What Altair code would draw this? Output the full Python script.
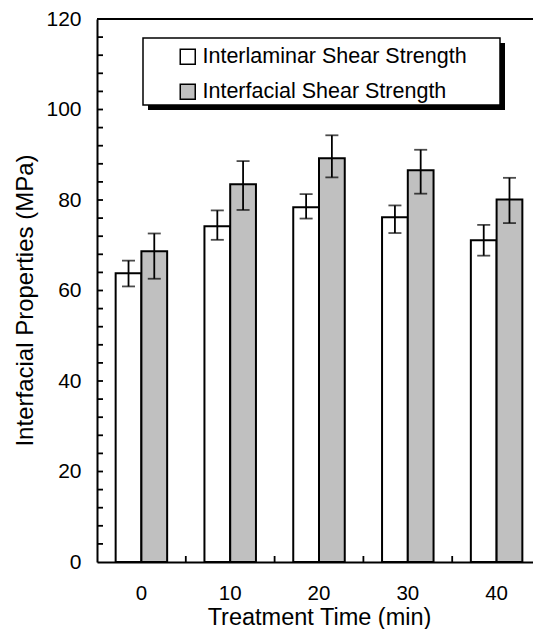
import altair as alt
import pandas as pd

# ---- data ----
times = [0, 10, 20, 30, 40]
series = ["Interlaminar Shear Strength", "Interfacial Shear Strength"]
ilss = [63.8, 74.2, 78.4, 76.2, 71.1]
ilss_lo = [60.9, 71.2, 75.9, 72.7, 67.7]
ilss_hi = [66.6, 77.7, 81.3, 78.8, 74.5]
ifss = [68.7, 83.5, 89.2, 86.6, 80.1]
ifss_lo = [62.6, 77.8, 85.0, 81.4, 74.9]
ifss_hi = [72.6, 88.6, 94.3, 91.1, 84.9]
y_labels = [0, 20, 40, 60, 80, 100, 120]
y_ticks = [4, 8, 12, 16, 20, 24, 28, 32, 36, 40, 44, 48, 52, 56, 60, 64, 68, 72, 76,
           80, 84, 88, 92, 96, 100, 104, 108, 112, 116]
x_minor = [5, 15, 25, 35]

rows = []
for i, t in enumerate(times):
    rows.append({"time": t, "series": series[0], "value": ilss[i], "lo": ilss_lo[i], "hi": ilss_hi[i]})
    rows.append({"time": t, "series": series[1], "value": ifss[i], "lo": ifss_lo[i], "hi": ifss_hi[i]})
df = pd.DataFrame(rows)

W, H = 444, 543
FONT = "Liberation Sans"

xscale = alt.Scale(paddingInner=0.42, paddingOuter=0.21)
yscale = alt.Scale(domain=[0, 120], nice=False)
offscale = alt.Scale(domain=series, paddingInner=0, paddingOuter=0)

YTITLE = "Interfacial Properties (MPa)"
yaxis = alt.Axis(values=y_labels, ticks=False, grid=False,
                 labelFontSize=21, labelPadding=16, labelColor="black",
                 domainColor="black", domainWidth=2,
                 titleFontSize=24, titleFontWeight="normal", titleColor="black",
                 titleBaseline="alphabetic", titleX=-65, titleY=281)

base = alt.Chart(df)

bars = base.mark_bar(stroke="black", strokeWidth=2).encode(
    x=alt.X("time:O", scale=xscale, title="Treatment Time (min)",
            axis=alt.Axis(labelAngle=0, ticks=False, labelFontSize=20.5, labelPadding=21,
                          labelColor="black", domainColor="black", domainWidth=2,
                          titleFontSize=23.5, titleFontWeight="normal", titleColor="black",
                          titleBaseline="alphabetic", titleY=62)),
    xOffset=alt.XOffset("series:N", scale=offscale),
    y=alt.Y("value:Q", scale=yscale, title=YTITLE, axis=yaxis),
    fill=alt.Fill("series:N", scale=alt.Scale(domain=series, range=["white", "#c0c0c0"]),
                  legend=alt.Legend(title=None, orient="none", legendX=80, legendY=27,
                                    symbolType="square", symbolSize=225,
                                    symbolStrokeColor="black", symbolStrokeWidth=1.5,
                                    labelFontSize=21.5, labelOffset=4, labelColor="black",
                                    rowPadding=12, padding=0, labelLimit=400)),
)

err = base.mark_rule(color="black", strokeWidth=1.8).encode(
    x=alt.X("time:O", scale=xscale, axis=None),
    xOffset=alt.XOffset("series:N", scale=offscale),
    y=alt.Y("lo:Q", scale=yscale, title=YTITLE, axis=yaxis),
    y2="hi:Q",
)
cap_lo = base.mark_tick(color="black", thickness=1.8, size=13).encode(
    x=alt.X("time:O", scale=xscale, axis=None),
    xOffset=alt.XOffset("series:N", scale=offscale),
    y=alt.Y("lo:Q", scale=yscale, title=YTITLE, axis=yaxis),
)
cap_hi = base.mark_tick(color="black", thickness=1.8, size=13).encode(
    x=alt.X("time:O", scale=xscale, axis=None),
    xOffset=alt.XOffset("series:N", scale=offscale),
    y=alt.Y("hi:Q", scale=yscale, title=YTITLE, axis=yaxis),
)

yt = alt.Chart(pd.DataFrame({"v": y_ticks})).mark_rule(color="black", strokeWidth=1.8).encode(
    y=alt.Y("v:Q", scale=yscale, title=YTITLE, axis=yaxis),
    x=alt.value(0), x2=alt.value(6),
)
xt = alt.Chart(pd.DataFrame({"m": x_minor})).mark_rule(color="black", strokeWidth=1.8).encode(
    x=alt.X("m:Q", scale=alt.Scale(domain=[-5, 45], nice=False, zero=False), axis=None),
    y=alt.value(H), y2=alt.value(H - 6),
)

one = pd.DataFrame({"a": [0]})
top = alt.Chart(one).mark_rule(color="black", strokeWidth=2).encode(
    x=alt.value(0), x2=alt.value(W), y=alt.value(0),
)
shadow = alt.Chart(one).mark_rect(color="black").encode(
    x=alt.value(51), x2=alt.value(408), y=alt.value(24), y2=alt.value(91),
)
box = alt.Chart(one).mark_rect(fill="white", stroke="black", strokeWidth=1.5).encode(
    x=alt.value(46), x2=alt.value(403), y=alt.value(19), y2=alt.value(86),
)

chart = alt.layer(bars, err, cap_lo, cap_hi, yt, xt, top, shadow, box).resolve_scale(
    x="independent"
).properties(
    width=W, height=H,
    autosize=alt.AutoSizeParams(type="none"),
    padding={"left": 89, "top": 11, "right": -8, "bottom": 67},
).configure_view(stroke=None).configure(font=FONT)

chart.save("out.html", embed_options={"renderer": "svg", "actions": False})
